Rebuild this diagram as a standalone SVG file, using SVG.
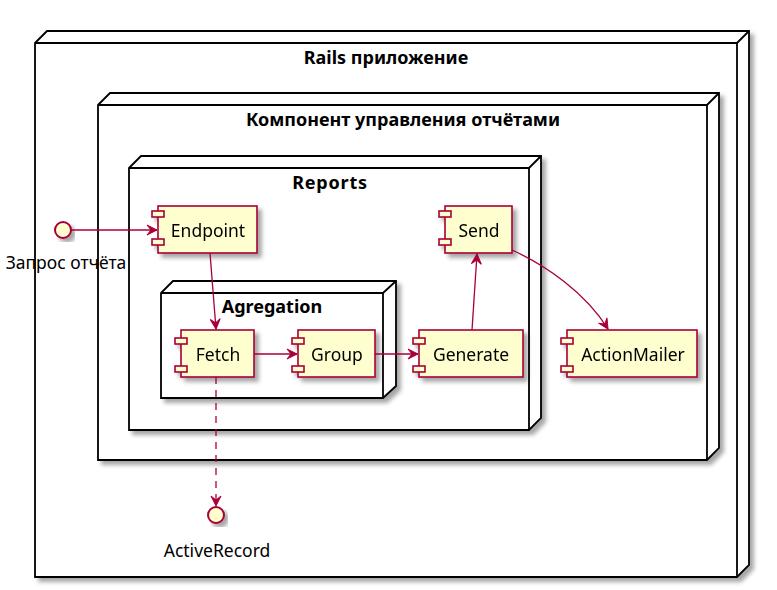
<svg xmlns="http://www.w3.org/2000/svg" width="777" height="590" viewBox="0 0 777 590">
<defs>
<filter id="sh" x="-10%" y="-10%" width="130%" height="130%">
<feGaussianBlur in="SourceAlpha" stdDeviation="2"/>
<feOffset dx="4" dy="4" result="b"/>
<feFlood flood-color="#000" flood-opacity="0.35"/>
<feComposite in2="b" operator="in"/>
<feMerge><feMergeNode/><feMergeNode in="SourceGraphic"/></feMerge>
</filter>
<marker id="ah" markerUnits="userSpaceOnUse" viewBox="-11 -6 12 12" refX="0" refY="0" markerWidth="12" markerHeight="12" orient="auto">
<path d="M0,0 L-10,-5 L-6,0 L-10,5 Z" fill="#A80036" stroke="#A80036" stroke-width="1" stroke-dasharray="none"/>
</marker>
</defs>
<style>
.node{fill:#FFFFFF;stroke:#000000;stroke-width:1.8;filter:url(#sh)}
.nl{fill:none;stroke:#000000;stroke-width:1.8}
.ttl{font-family:"Noto Sans","Open Sans",sans-serif;font-weight:bold;font-size:18px;fill:#000;text-anchor:middle}
.cb{fill:#FEFECE;stroke:#A80036;stroke-width:1.6}
.cs{fill:#FEFECE;stroke:#A80036;stroke-width:1.6}
.lbl{font-family:"Noto Sans","Open Sans",sans-serif;font-size:17.5px;fill:#000;text-anchor:middle}
.ifc{fill:#FEFECE;stroke:#A80036;stroke-width:2;filter:url(#sh)}
.cn{fill:none;stroke:#A80036;stroke-width:1.3;marker-end:url(#ah)}
.dash{stroke-dasharray:7,6}
</style>

<g id="rails">
<path class="node" d="M35,43 L47,31 L749,31 L749,565 L737,577 L35,577 Z"/>
<path class="nl" d="M35,43 L737,43 L749,31 M737,43 L737,577"/>
<text class="ttl" x="386" y="64">Rails приложение</text>
</g>

<g id="component">
<path class="node" d="M98,105 L110,93 L719,93 L719,448 L707,460 L98,460 Z"/>
<path class="nl" d="M98,105 L707,105 L719,93 M707,105 L707,460"/>
<text class="ttl" x="403" y="126">Компонент управления отчётами</text>
</g>

<g id="reports">
<path class="node" d="M129,168 L141,156 L541,156 L541,418 L529,430 L129,430 Z"/>
<path class="nl" d="M129,168 L529,168 L541,156 M529,168 L529,430"/>
<text class="ttl" x="330" y="189" font-size="17" letter-spacing="0.8">Reports</text>
</g>

<g id="agregation">
<path class="node" d="M161,293 L173,281 L396,281 L396,386 L383,398 L161,398 Z"/>
<path class="nl" d="M161,293 L383,293 L396,281 M383,293 L383,398"/>
<text class="ttl" x="272" y="313" font-size="17">Agregation</text>
</g>

<g id="request">
<circle class="ifc" cx="63" cy="230" r="8"/>
<text class="lbl" x="66" y="269">Запрос отчёта</text>
</g>

<g id="activerecord">
<circle class="ifc" cx="216" cy="515" r="8"/>
<text class="lbl" x="217" y="557">ActiveRecord</text>
</g>

<g id="endpoint" filter="url(#sh)">
<rect class="cb" x="158" y="206" width="99" height="47"/>
<rect class="cs" x="152" y="211" width="12" height="6"/>
<rect class="cs" x="152" y="239" width="12" height="6"/>
<text class="lbl" x="208" y="237">Endpoint</text>
</g>

<g id="send" filter="url(#sh)">
<rect class="cb" x="445" y="206" width="67" height="47"/>
<rect class="cs" x="439" y="211" width="12" height="6"/>
<rect class="cs" x="439" y="239" width="12" height="6"/>
<text class="lbl" x="479" y="237">Send</text>
</g>

<g id="fetch" filter="url(#sh)">
<rect class="cb" x="181" y="330" width="73" height="47"/>
<rect class="cs" x="175" y="338" width="12" height="6"/>
<rect class="cs" x="175" y="366" width="12" height="6"/>
<text class="lbl" x="218" y="361">Fetch</text>
</g>

<g id="group" filter="url(#sh)">
<rect class="cb" x="298" y="330" width="77" height="47"/>
<rect class="cs" x="292" y="338" width="12" height="6"/>
<rect class="cs" x="292" y="366" width="12" height="6"/>
<text class="lbl" x="337" y="361">Group</text>
</g>

<g id="generate" filter="url(#sh)">
<rect class="cb" x="419" y="330" width="104" height="47"/>
<rect class="cs" x="413" y="338" width="12" height="6"/>
<rect class="cs" x="413" y="366" width="12" height="6"/>
<text class="lbl" x="471" y="361">Generate</text>
</g>

<g id="actionmailer" filter="url(#sh)">
<rect class="cb" x="567" y="330" width="130" height="47"/>
<rect class="cs" x="561" y="338" width="12" height="6"/>
<rect class="cs" x="561" y="366" width="12" height="6"/>
<text class="lbl" x="633" y="361">ActionMailer</text>
</g>

<g id="connectors">
<path class="cn" d="M71,230 L157,230"/>
<path class="cn" d="M210,253 L216,329"/>
<path class="cn" d="M254,354 L297,354"/>
<path class="cn" d="M375,354 L418,354"/>
<path class="cn" d="M472,330 L477,254"/>
<path class="cn" d="M512,250 C545,265 585,292 608,329"/>
<path class="cn dash" d="M216,377 L216,506"/>
</g>
</svg>
